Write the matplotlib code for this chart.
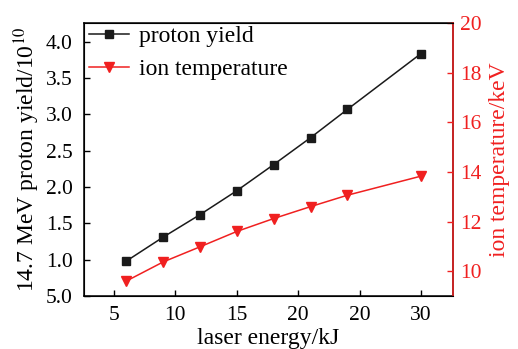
import matplotlib
matplotlib.use("Agg")
from matplotlib import pyplot as plt

# data
energy = [6, 9, 12, 15, 18, 21, 24, 30]
proton_yield = [0.98, 1.31, 1.62, 1.95, 2.31, 2.68, 3.07, 3.84]
ion_temp = [9.6, 10.37, 10.98, 11.6, 12.12, 12.6, 13.06, 13.83]

x_ticks = [5, 10, 15, 20, 25, 30]
x_ticklabels = ["5", "10", "15", "20", "20", "30"]
y_ticks = [0.5, 1.0, 1.5, 2.0, 2.5, 3.0, 3.5, 4.0]
y_ticklabels = ["5.0", "1.0", "1.5", "2.0", "2.5", "3.0", "3.5", "4.0"]
t_ticks = [10, 12, 14, 16, 18, 20]

plt.rcParams["font.family"] = ["Liberation Serif", "DejaVu Serif"]
plt.rcParams["mathtext.fontset"] = "stix"
plt.rcParams["font.size"] = 15.5

red = "#f02020"
fig = plt.figure(figsize=(5.18, 3.49), dpi=100)
ax = fig.add_axes([0.162, 0.152, 0.7125, 0.782])
ax2 = ax.twinx()

l1, = ax.plot(energy, proton_yield, color="#1a1a1a", lw=1.1, marker="s", ms=5.5,
              label="proton yield")
l2, = ax2.plot(energy, ion_temp, color=red, lw=1.1, marker="v", ms=7,
               label="ion temperature")

ax.set_xlim(2.55, 32.6)
ax.set_ylim(0.5, 4.26)
ax2.set_ylim(9.0, 20.0)

ax.set_xticks(x_ticks)
ax.set_xticklabels(x_ticklabels)
ax.set_yticks(y_ticks)
ax.set_yticklabels(y_ticklabels)
ax2.set_yticks(t_ticks)

ax.tick_params(direction="in", length=4, width=1, pad=8)
ax.tick_params(axis="x", pad=7)
ax2.tick_params(direction="in", length=4, width=1, colors=red, pad=5)
ax2.spines["right"].set_color(red)
for s in ax.spines.values():
    s.set_linewidth(1.1)
ax2.spines["right"].set_linewidth(1.1)

ax.set_xlabel("laser energy/kJ", fontsize=17, labelpad=2.5)
ax.set_ylabel("14.7 MeV proton yield/10$^{10}$", fontsize=17, labelpad=3)
ax2.set_ylabel("ion temperature/keV", color=red, fontsize=17, labelpad=5)

ax.legend(handles=[l1, l2], loc="upper left", bbox_to_anchor=(0.0, 1.008),
          frameon=False, fontsize=17, handlelength=1.7, borderaxespad=0.0,
          labelspacing=0.5, handletextpad=0.45, borderpad=0.2)

fig.savefig("out.png", dpi=100)
